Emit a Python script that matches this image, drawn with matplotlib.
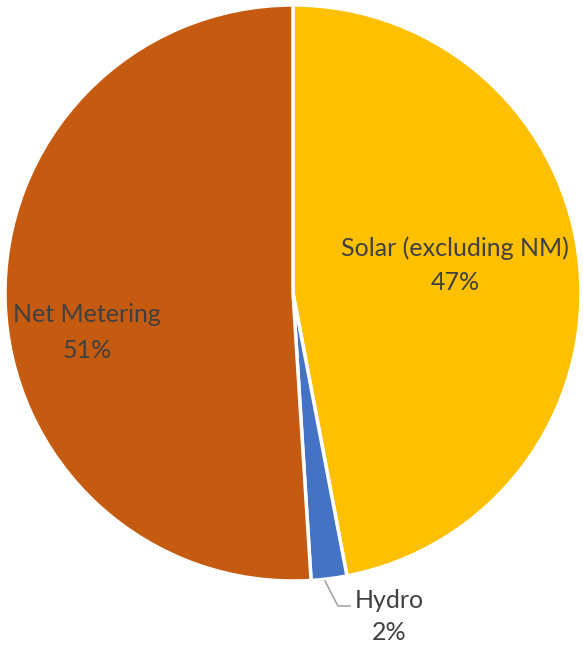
import matplotlib
matplotlib.use('Agg')
import matplotlib.pyplot as plt

labels = ['Solar (excluding NM)', 'Hydro', 'Net Metering']
shares = [47, 2, 51]
colors = ['#FFC000', '#4472C4', '#C55A11']

W, H = 583, 648
fig = plt.figure(figsize=(W / 100, H / 100), dpi=100)
fig.patch.set_facecolor('white')
ax = fig.add_axes([0, 0, 1, 1])

cx, cy, r = 293, H - 293, 288
wedges, _ = ax.pie(shares, colors=colors, startangle=90, counterclock=False,
                   center=(cx, cy), radius=r,
                   wedgeprops=dict(edgecolor='white', linewidth=2.5))
ax.set_xlim(0, W)
ax.set_ylim(0, H)
ax.set_aspect('equal')
ax.axis('off')

txt = dict(ha='center', va='center', fontsize=18, color='#404040', family='Lato')

# labels inside the two big slices
ax.text(455, H - 248, labels[0], **txt)
ax.text(455, H - 283, f'{shares[0]}%', **txt)
ax.text(87, H - 315, labels[2], **txt)
ax.text(87, H - 350, f'{shares[2]}%', **txt)

# hydro sits outside with a leader line
ax.plot([325, 338, 350], [H - 581, H - 606, H - 606], color='#A6A6A6', lw=1.2)
ax.text(389, H - 601, labels[1], **txt)
ax.text(389, H - 632, f'{shares[1]}%', **txt)

plt.savefig('out.png', dpi=100, facecolor='white')
